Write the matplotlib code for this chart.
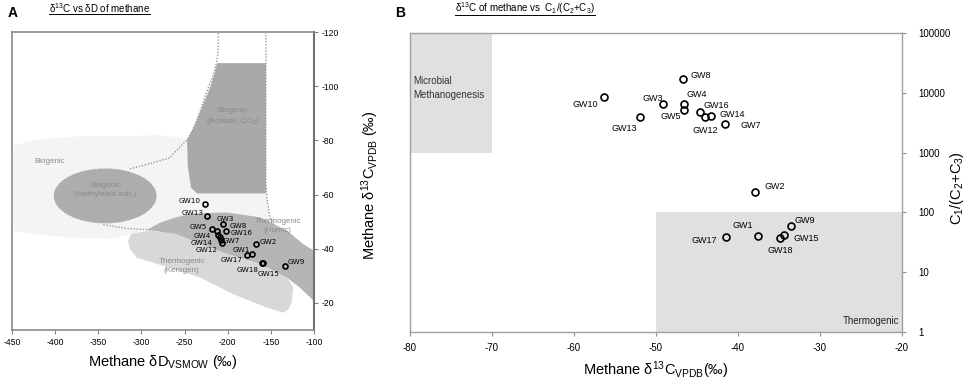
import matplotlib
matplotlib.use('Agg')
import matplotlib.pyplot as plt
from matplotlib.patches import Polygon, Ellipse, Rectangle
from matplotlib.lines import Line2D
from matplotlib.ticker import FixedLocator, FuncFormatter

plt.rcParams['font.family'] = ['Liberation Sans', 'DejaVu Sans']
plt.rcParams['mathtext.fontset'] = 'custom'
plt.rcParams['mathtext.rm'] = 'Liberation Sans'
plt.rcParams['mathtext.it'] = 'Liberation Sans:italic'
plt.rcParams['mathtext.bf'] = 'Liberation Sans:bold'
plt.rcParams['axes.unicode_minus'] = False

# ---- data ----
wells = ['GW1', 'GW2', 'GW3', 'GW4', 'GW5', 'GW7', 'GW8', 'GW9', 'GW10',
         'GW12', 'GW13', 'GW14', 'GW15', 'GW16', 'GW17', 'GW18']

# panel A: dD of methane vs d13C of methane
dD_methane = [-172.2, -166.9, -205.9, -212.1, -217.9, -207.8, -202.4, -133.3, -226.4,
              -206.3, -223.7, -209.0, -158.8, -210.9, -177.7, -160.7]
d13C_a = [-38.0, -41.6, -49.1, -46.7, -47.2, -43.2, -46.7, -33.6, -56.6,
          -42.2, -51.9, -44.2, -34.9, -45.2, -37.7, -34.7]

# panel B: d13C of methane vs C1/(C2+C3)
d13C_b = [-37.5, -37.9, -49.1, -46.6, -46.6, -41.6, -46.7, -33.5, -56.3,
          -44.0, -51.9, -43.3, -34.4, -44.6, -41.5, -34.9]
c1_ratio = [41, 220, 6600, 6600, 5100, 3000, 17000, 60, 8400,
            3900, 3900, 4100, 42, 4750, 39, 38]

# genetic fields of the dD - d13C diagram (Whiticar style)
field_outer = [(-448.8, -46.7), (-448.8, -78.1), (-417.6, -80.4), (-371.2, -81.5), (-324.9, -81.5),
               (-278.5, -81.9), (-247.2, -80.7), (-239.9, -84.3), (-232.2, -90.5), (-224.4, -97.9),
               (-216.7, -104.1), (-213.5, -108.5), (-155.7, -108.5), (-155.7, -64.1), (-154.2, -57.8),
               (-151.0, -51.6), (-139.5, -47.4),
               (-131.3, -46.7), (-162.6, -51.6), (-200.9, -53.4), (-240.3, -53.0), (-278.5, -49.6),
               (-293.6, -47.0), (-311.3, -45.6), (-336.4, -43.7), (-382.8, -44.1), (-429.1, -45.6)]
field_acetate = [(-212.1, -108.5), (-155.7, -108.5), (-155.7, -60.4), (-235.6, -60.4),
                 (-242.6, -62.6), (-246.1, -70.0), (-247.2, -80.0), (-238.0, -85.6),
                 (-228.7, -93.0), (-220.6, -99.3), (-214.8, -105.2)]
field_humic = [(-293.6, -47.0), (-278.5, -49.6), (-261.1, -51.5), (-240.3, -53.0), (-200.9, -53.4),
               (-162.6, -51.6), (-131.3, -46.7), (-112.5, -41.7), (-100.0, -39.3), (-100.0, -20.7),
               (-116.3, -25.6), (-131.3, -29.3), (-162.6, -34.4), (-200.9, -38.1), (-240.3, -42.6),
               (-278.5, -46.3)]
field_kerogen = [(-311.3, -45.6), (-290.1, -46.7), (-261.1, -45.6), (-240.3, -43.0), (-200.9, -38.1),
                 (-162.6, -34.4), (-131.3, -29.3), (-124.0, -25.7), (-125.9, -20.1), (-130.0, -17.5),
                 (-135.6, -16.4), (-154.9, -18.3), (-193.5, -23.2), (-232.2, -29.4), (-282.0, -34.4),
                 (-305.4, -36.7), (-313.3, -40.0), (-315.6, -43.0)]
bound_left = [(-313.3, -69.5), (-290.1, -71.4), (-266.9, -73.6), (-263.1, -75.1), (-247.6, -80.0),
              (-239.9, -84.3), (-232.2, -90.5), (-224.4, -97.9), (-216.7, -104.1), (-212.8, -109.0),
              (-211.0, -112.7), (-211.0, -120.0)]
bound_right = [(-155.7, -120.0), (-155.7, -64.1), (-154.2, -57.8), (-151.0, -51.6), (-146.4, -48.5)]
bound_low = [(-344.2, -48.9), (-317.1, -47.5), (-290.1, -47.0)]

# label offsets (pixels) for each well, per panel
offs_a = {'GW1': (-10, 4), 'GW2': (12, 2), 'GW3': (3, 5), 'GW4': (-14.6, -5), 'GW5': (-14, 1.8),
          'GW7': (10.7, -0.5), 'GW8': (12.6, 5), 'GW9': (10.7, 3.6), 'GW10': (-15.7, 2.6),
          'GW12': (-15.6, -7.5), 'GW13': (-15, 3.3), 'GW14': (-18.3, -5.8), 'GW15': (5, -11),
          'GW16': (23.4, 2), 'GW17': (-15.3, -4.7), 'GW18': (-14.4, -6.7)}
offs_b = {'GW1': (-15.4, 9.7), 'GW2': (19.1, 5), 'GW3': (-11, 5.4), 'GW4': (12.9, 8.7),
          'GW5': (-13.5, -6.7), 'GW7': (25.6, -1), 'GW8': (17.6, 4), 'GW9': (13.2, 5),
          'GW10': (-19.5, -6.7), 'GW12': (0, -13.4), 'GW13': (-16.5, -11.3), 'GW14': (21.7, 1),
          'GW15': (22, -3.3), 'GW16': (15.7, 7), 'GW17': (-21.7, -3.7), 'GW18': (0, -13.4)}

W, H = 970, 384
fig = plt.figure(figsize=(W / 100, H / 100), dpi=100)

# ---------------- panel A ----------------
axA = fig.add_axes([12 / W, 1 - 330 / H, 302 / W, 298 / H])
axA.set_xlim(-450, -100)
axA.set_ylim(-10, -120)

axA.add_patch(Polygon(field_outer, closed=True, facecolor='#f4f4f4', edgecolor='none', zorder=1))
axA.add_patch(Polygon(field_acetate, closed=True, facecolor='#a9a9a9', edgecolor='none', zorder=2))
axA.add_patch(Ellipse((-342, -59.5), 120, 20.5, facecolor='#adadad', edgecolor='white',
                      linestyle=(0, (1, 1)), linewidth=0.8, zorder=2))
axA.add_patch(Polygon(field_humic, closed=True, facecolor='#b5b5b5', edgecolor='none', zorder=2))
axA.add_patch(Polygon(field_kerogen, closed=True, facecolor='#d8d8d8', edgecolor='none',
                      joinstyle='round', zorder=3))
for line in (bound_left, bound_right, bound_low):
    xs, ys = zip(*line)
    axA.plot(xs, ys, linestyle=(0, (1, 1.2)), color='#9a9a9a', linewidth=1.0, zorder=3)

grey_txt = dict(fontsize=5.8, color='#8a8a8a', ha='center', va='center', zorder=4, linespacing=1.4)
axA.text(-406, -72.3, 'Biogenic', **grey_txt)
axA.text(-342, -61.5, 'Biogenic\n(Methylated sub.)', **grey_txt)
axA.text(-194, -88.6, 'Biogenic\n(Acetate, CO$_2$)', **grey_txt)
axA.text(-141.8, -48.5, 'Thermogenic\n(Humic)', **grey_txt)
axA.text(-253.4, -33.7, 'Thermogenic\n(Kerogen)', **grey_txt)

axA.plot(dD_methane, d13C_a, 'o', mfc='none', mec='black', ms=3.6, mew=1.2, zorder=5)
for name, x, y in zip(wells, dD_methane, d13C_a):
    axA.annotate(name, (x, y), xytext=offs_a[name], textcoords='offset pixels',
                 ha='center', va='center', fontsize=5.2, family='DejaVu Sans', zorder=6)

axA.set_xticks(range(-450, -99, 50))
axA.set_yticks(range(-120, -19, 20))
axA.yaxis.tick_right()
axA.tick_params(axis='both', direction='out', length=3, width=0.8, color='#808080',
                labelsize=6.2, pad=2.5)
for side in ['left', 'top', 'bottom']:
    axA.spines[side].set_color('#8c8c8c')
    axA.spines[side].set_linewidth(1.2)
axA.spines['right'].set_color('#707070')
axA.spines['right'].set_linewidth(1.5)

fig.text(163 / W, 1 - 362 / H, 'Methane δD$_{\\mathrm{VSMOW}}$ (‰)', fontsize=10.5,
         ha='center', va='center')
fig.text(370 / W, 1 - 185 / H, 'Methane δ$^{13}$C$_{\\mathrm{VPDB}}$ (‰)', fontsize=10.5,
         ha='center', va='center', rotation=90)

# ---------------- panel B ----------------
axB = fig.add_axes([410 / W, 1 - 332 / H, 492 / W, 299 / H])
axB.set_xlim(-80, -20)
axB.set_yscale('log')
axB.set_ylim(1, 100000)

axB.add_patch(Rectangle((-80, 1000), 10, 99000, facecolor='#e0e0e0', edgecolor='none', zorder=1))
axB.add_patch(Rectangle((-50, 1), 30, 99, facecolor='#e0e0e0', edgecolor='none', zorder=1))
axB.text(-79.6, 12000, 'Microbial\nMethanogenesis', fontsize=7, color='#333333',
         ha='left', va='center', linespacing=1.5)
axB.text(-20.3, 1.5, 'Thermogenic', fontsize=7, color='#222222', ha='right', va='center')

axB.plot(d13C_b, c1_ratio, 'o', mfc='none', mec='black', ms=5, mew=1.2, zorder=5)
for name, x, y in zip(wells, d13C_b, c1_ratio):
    axB.annotate(name, (x, y), xytext=offs_b[name], textcoords='offset pixels',
                 ha='center', va='center', fontsize=6.5, zorder=6)

axB.set_xticks(range(-80, -19, 10))
axB.yaxis.set_major_locator(FixedLocator([1, 10, 100, 1000, 10000, 100000]))
axB.yaxis.set_minor_locator(FixedLocator([]))
axB.yaxis.set_major_formatter(FuncFormatter(lambda v, p: '%d' % round(v)))
axB.yaxis.tick_right()
axB.tick_params(axis='both', direction='out', length=3, width=0.8, color='#909090', labelsize=7)
axB.tick_params(axis='x', pad=5)
axB.tick_params(axis='y', pad=9)
for side in axB.spines:
    axB.spines[side].set_color('#a0a0a0')
    axB.spines[side].set_linewidth(1.0)

fig.text(656 / W, 1 - 370 / H, 'Methane δ$^{13}$C$_{\\mathrm{VPDB}}$(‰)', fontsize=10.5,
         ha='center', va='center')
fig.text(957 / W, 1 - 188 / H, 'C$_1$/(C$_2$+C$_3$)', fontsize=10.5,
         ha='center', va='center', rotation=90)

# ---------------- panel letters and underlined titles ----------------
fig.text(8 / W, 1 - 13 / H, 'A', fontsize=10, fontweight='bold', ha='left', va='center')
fig.text(395 / W, 1 - 13 / H, 'B', fontsize=10, fontweight='bold', ha='left', va='center')
titles = [fig.text(49 / W, 1 - 8 / H, 'δ$^{13}$C vs δD of methane', fontsize=7, ha='left', va='center'),
          fig.text(455 / W, 1 - 8 / H, 'δ$^{13}$C of methane vs  C$_1$/(C$_2$+C$_3$)', fontsize=7,
                   ha='left', va='center')]
fig.canvas.draw()
renderer = fig.canvas.get_renderer()
for t in titles:
    bb = t.get_window_extent(renderer)
    y = (bb.y0 + 0.5) / H
    fig.add_artist(Line2D([bb.x0 / W, bb.x1 / W], [y, y], color='black', linewidth=0.7))

fig.savefig('out.png', dpi=100)
